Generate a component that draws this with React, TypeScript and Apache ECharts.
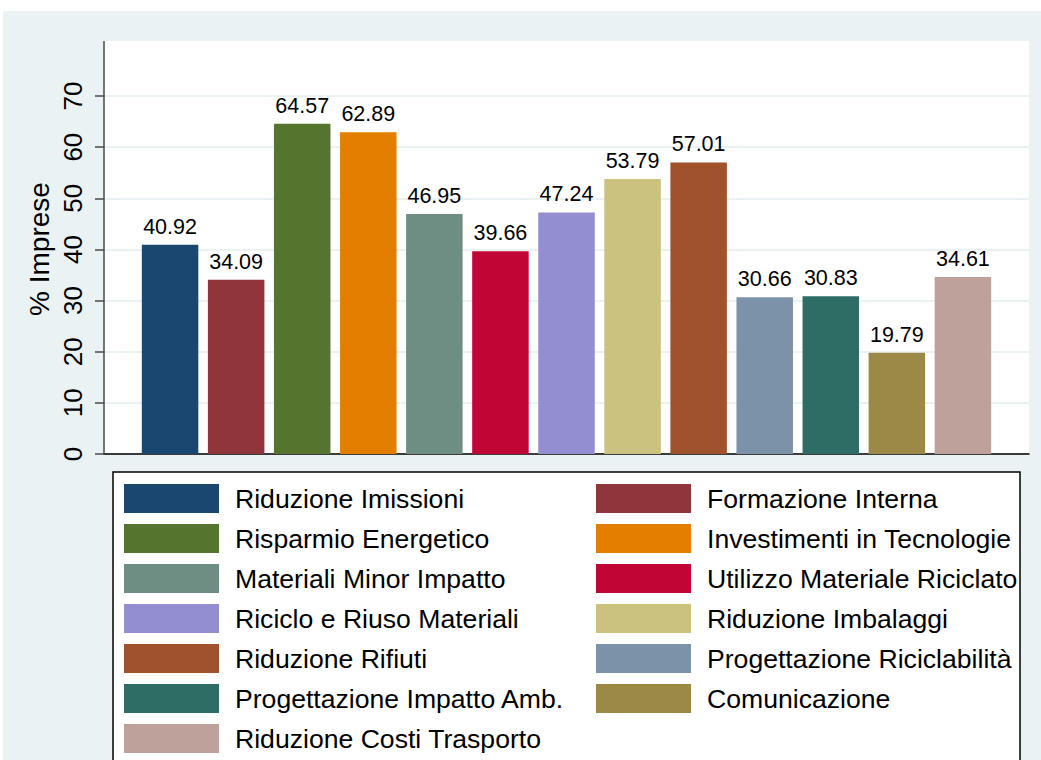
import React, { useEffect, useRef } from "react";
import * as echarts from "echarts";

const categories = [
  "Riduzione Imissioni",
  "Formazione Interna",
  "Risparmio Energetico",
  "Investimenti in Tecnologie",
  "Materiali Minor Impatto",
  "Utilizzo Materiale Riciclato",
  "Riciclo e Riuso Materiali",
  "Riduzione Imbalaggi",
  "Riduzione Rifiuti",
  "Progettazione Riciclabilità",
  "Progettazione Impatto Amb.",
  "Comunicazione",
  "Riduzione Costi Trasporto",
];

const values = [40.92, 34.09, 64.57, 62.89, 46.95, 39.66, 47.24, 53.79, 57.01, 30.66, 30.83, 19.79, 34.61];

const colors = [
  "#1a476f",
  "#90353b",
  "#55752f",
  "#e37e00",
  "#6e8e84",
  "#c10534",
  "#938dd2",
  "#cac27e",
  "#a0522d",
  "#7b92a8",
  "#2d6d66",
  "#9c8847",
  "#bfa19c",
];

const yTicks = [0, 10, 20, 30, 40, 50, 60, 70];
const yTitle = "% Imprese";

const FONT = "'Liberation Sans', Arial, Helvetica, sans-serif";

export default function App() {
  const ref = useRef<HTMLDivElement>(null);

  useEffect(() => {
    if (!ref.current) return;
    const chart = echarts.init(ref.current, undefined, { renderer: "svg" });

    const series = categories.map((name, i) => ({
      name,
      type: "bar",
      barWidth: 56.5,
      barGap: "-100%",
      itemStyle: { color: colors[i] },
      label: {
        show: true,
        position: "top",
        distance: 7,
        fontSize: 21.5,
        fontFamily: FONT,
        color: "#000",
        formatter: (p: any) => Number(p.value[1]).toFixed(2),
      },
      data: [[i, values[i]]],
    }));

    const leftNames = categories.filter((_, i) => i % 2 === 0);
    const rightNames = categories.filter((_, i) => i % 2 === 1);

    const legendBase = {
      orient: "vertical",
      top: 484,
      itemWidth: 95,
      itemHeight: 29,
      itemGap: 11,
      padding: 0,
      icon: "rect",
      selectedMode: false,
      textStyle: {
        fontSize: 26.6,
        fontFamily: FONT,
        color: "#000",
        lineHeight: 29,
        padding: [0, 0, 0, 11],
      },
    };

    chart.setOption({
      animation: false,
      backgroundColor: "#ffffff",
      textStyle: { fontFamily: FONT },
      graphic: [
        {
          type: "rect",
          z: -10,
          silent: true,
          shape: { x: 3, y: 11, width: 1038, height: 749 },
          style: { fill: "#eaf2f3" },
        },
        {
          type: "rect",
          z: -9,
          silent: true,
          shape: { x: 104, y: 41, width: 925, height: 413 },
          style: { fill: "#ffffff" },
        },
        {
          type: "line",
          z: 5,
          silent: true,
          shape: { x1: 104, y1: 41, x2: 104, y2: 454 },
          style: { stroke: "#4a4a4a", lineWidth: 1.5 },
        },
        {
          type: "rect",
          z: -8,
          silent: true,
          shape: { x: 113, y: 472, width: 907, height: 320 },
          style: { fill: "#ffffff", stroke: "#000000", lineWidth: 1.5 },
        },
        {
          type: "text",
          silent: true,
          x: 39,
          y: 249,
          rotation: Math.PI / 2,
          style: {
            text: yTitle,
            fontSize: 28,
            fontFamily: FONT,
            fill: "#000",
            textAlign: "center",
            textVerticalAlign: "middle",
          },
        },
      ],
      legend: [
        { ...legendBase, left: 124, data: leftNames },
        { ...legendBase, left: 596, data: rightNames },
      ],
      grid: { left: 104, right: 12, top: 96, bottom: 306, containLabel: false },
      xAxis: {
        type: "value",
        min: -1,
        max: 13,
        axisLine: { show: true, onZero: false, lineStyle: { color: "#000", width: 1.5 } },
        axisTick: { show: false },
        axisLabel: { show: false },
        splitLine: { show: false },
      },
      yAxis: {
        type: "value",
        min: yTicks[0],
        max: yTicks[yTicks.length - 1],
        interval: 10,
        axisLine: { show: false, onZero: false },
        axisTick: { show: true, length: 9, lineStyle: { color: "#4a4a4a", width: 1.5 } },
        axisLabel: {
          rotate: 90,
          margin: 18,
          fontSize: 26,
          fontFamily: FONT,
          color: "#000",
        },
        splitLine: { show: true, lineStyle: { color: "#eaf2f3", width: 2 } },
      },
      series,
    });

    return () => chart.dispose();
  }, []);

  return (
    <div
      ref={ref}
      style={{ position: "absolute", left: 0, top: 0, width: 1041, height: 760 }}
    />
  );
}
